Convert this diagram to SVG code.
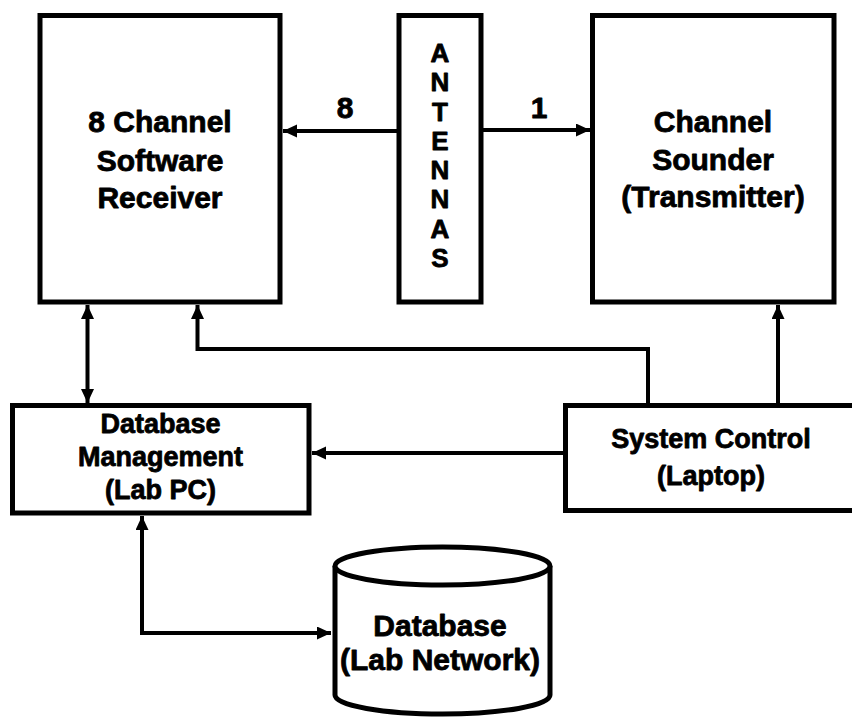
<svg xmlns="http://www.w3.org/2000/svg" width="852" height="717" viewBox="0 0 852 717">
  <style>
    .box { fill: #fff; stroke: #000; stroke-width: 5; }
    .wire { fill: none; stroke: #000; stroke-width: 4; }
    text { font-family: "Liberation Sans", Arial, sans-serif; font-weight: bold; fill: #000; stroke: #000; stroke-width: 0.8; stroke-linejoin: round; text-anchor: middle; }
    .big { font-size: 30px; }
    .mid { font-size: 27px; }
    .ant { font-size: 26px; }
  </style>
  <defs>
    <marker id="head" markerUnits="userSpaceOnUse" markerWidth="16" markerHeight="14" refX="14" refY="6.5" orient="auto-start-reverse">
      <path d="M0,0 L14,6.5 L0,13 z" fill="#000"/>
    </marker>
  </defs>

  <rect width="852" height="717" fill="#fff"/>

  <!-- connectors -->
  <g id="connectors">
    <line class="wire" x1="399" y1="131" x2="283" y2="131" marker-end="url(#head)"/>
    <line class="wire" x1="481" y1="130" x2="590" y2="130" marker-end="url(#head)"/>
    <line class="wire" x1="87.5" y1="305" x2="87.5" y2="403" marker-start="url(#head)" marker-end="url(#head)"/>
    <polyline class="wire" points="648,405 648,349 197.5,349 197.5,305" marker-end="url(#head)"/>
    <line class="wire" x1="778" y1="405" x2="778" y2="305" marker-end="url(#head)"/>
    <line class="wire" x1="565" y1="453" x2="312" y2="453" marker-end="url(#head)"/>
    <polyline class="wire" points="142,516 142,633 331,633" marker-start="url(#head)" marker-end="url(#head)"/>
  </g>

  <g id="receiver">
    <rect class="box" x="40" y="15.5" width="240" height="286.5"/>
    <text class="big" x="160" y="132">8 Channel</text>
    <text class="big" x="160" y="171">Software</text>
    <text class="big" x="160" y="208">Receiver</text>
  </g>

  <g id="antennas">
    <rect class="box" x="399" y="15.5" width="82" height="286.5"/>
    <text class="ant" x="440" y="62">A</text>
    <text class="ant" x="440" y="91.3">N</text>
    <text class="ant" x="440" y="120.6">T</text>
    <text class="ant" x="440" y="149.9">E</text>
    <text class="ant" x="440" y="179.1">N</text>
    <text class="ant" x="440" y="208.4">N</text>
    <text class="ant" x="440" y="237.7">A</text>
    <text class="ant" x="440" y="267">S</text>
  </g>

  <g id="sounder">
    <rect class="box" x="592.5" y="15.5" width="241.5" height="286.5"/>
    <text class="big" x="713" y="132">Channel</text>
    <text class="big" x="713" y="170">Sounder</text>
    <text class="big" x="713" y="207">(Transmitter)</text>
  </g>

  <g id="labels">
    <text class="big" x="345" y="118">8</text>
    <text class="big" x="539" y="118">1</text>
  </g>

  <g id="db-management">
    <rect class="box" x="12.5" y="405.5" width="296.5" height="107.5"/>
    <text class="mid" x="160.5" y="433">Database</text>
    <text class="mid" x="160.5" y="466">Management</text>
    <text class="mid" x="160.5" y="499">(Lab PC)</text>
  </g>

  <g id="system-control">
    <rect class="box" x="565.5" y="405.5" width="300" height="105"/>
    <text class="mid" x="711" y="448">System Control</text>
    <text class="mid" x="711" y="485">(Laptop)</text>
  </g>

  <g id="database">
    <path class="box" d="M335,566 L335,695 A107.5,19 0 0 0 550,695 L550,566"/>
    <ellipse class="box" cx="442.5" cy="566" rx="107.5" ry="19"/>
    <text class="big" x="440" y="636">Database</text>
    <text class="big" x="440" y="670">(Lab Network)</text>
  </g>
</svg>
